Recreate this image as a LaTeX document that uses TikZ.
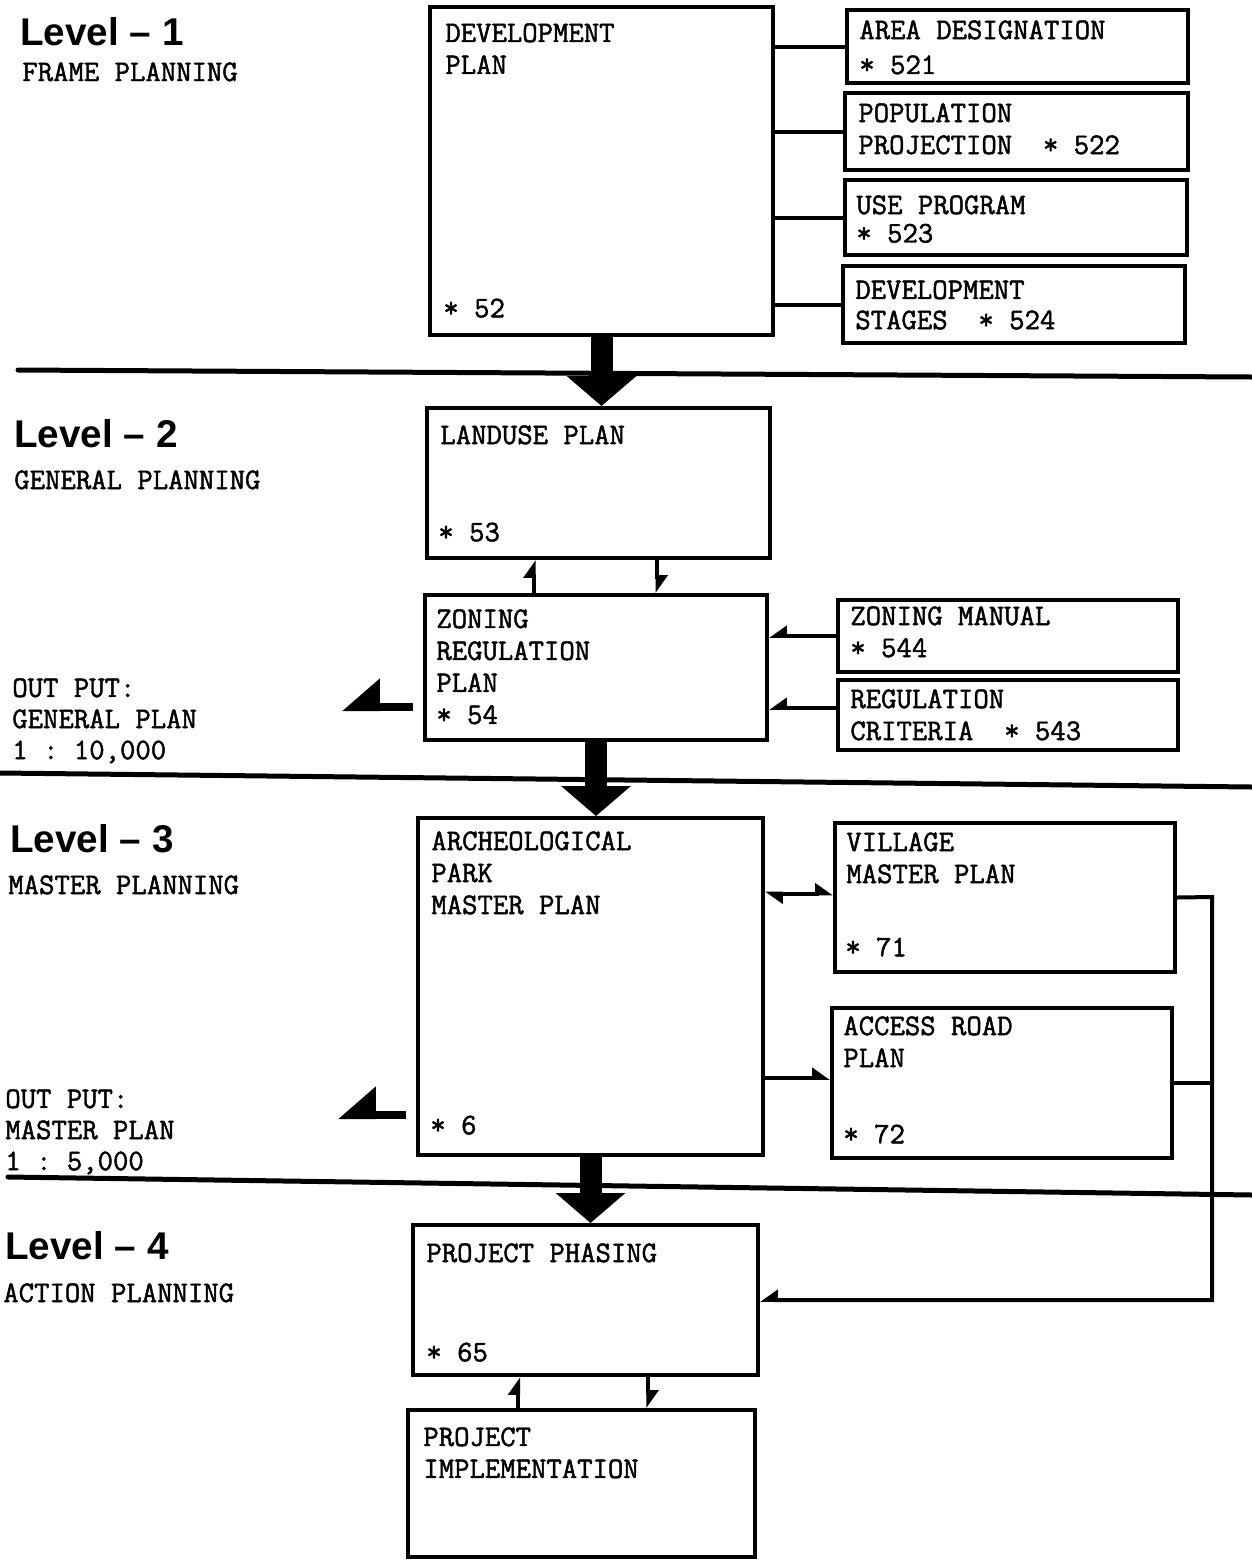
\documentclass[tikz,border=0pt]{standalone}
\usepackage{fontspec}
\newfontfamily\levelfont{Liberation Sans}
\newfontfamily\typefont{Latin Modern Mono}[FakeBold=1.6]
\usepackage{tikz}
\usetikzlibrary{calc, positioning, arrows.meta}

\begin{document}
\begin{tikzpicture}[x=0.02cm, y=-0.02cm,
        box/.style={draw, rectangle, line width=0.08cm, inner sep=0pt},
        tx/.style={font=\typefont\frenchspacing\fontsize{17}{18.2}\selectfont, inner sep=0pt, align=left},
        lvl/.style={font=\levelfont\bfseries\fontsize{22}{26}\selectfont, inner sep=0pt, anchor=base west},
        levelline/.style={line width=0.1cm, line cap=round},
        link/.style={line width=0.08cm},
        harp/.style={line width=0.08cm, -{Triangle[harpoon, length=0.3cm, width=0.4cm]}},
        harpr/.style={line width=0.08cm, -{Triangle[harpoon, swap, length=0.3cm, width=0.4cm]}},
        outharp/.style={line width=0.16cm, -{Triangle[harpoon, swap, length=0.66cm, width=1.1cm]}},
        bigarrow/.style={line width=0.44cm, -{Triangle[width=1.36cm, length=0.6cm]}}]
        \useasboundingbox (0,0) rectangle (1252,1560);

        % level separators
        \draw[levelline] (18,370) -- (1252,377);
        \draw[levelline] (0,773) -- (1252,787);
        \draw[levelline] (8,1177) -- (1252,1195);

        % level titles
        \node[lvl] (lev1) at (20,45) {Level – 1};
        \node[tx, anchor=base west] (frame) at (22,81) {FRAME PLANNING};
        \node[lvl] (lev2) at (14,447) {Level – 2};
        \node[tx, anchor=base west] (general) at (14,489) {GENERAL PLANNING};
        \node[lvl] (lev3) at (10,852) {Level – 3};
        \node[tx, anchor=base west] (master) at (8,894) {MASTER PLANNING};
        \node[lvl] (lev4) at (5,1259) {Level – 4};
        \node[tx, anchor=base west] (action) at (3,1302) {ACTION PLANNING};

        % level 1
        \node[box, minimum width=6.86cm, minimum height=6.56cm] (dev) at (601.5,171) {};
        \node[tx, below right=0.36cm and 0.34cm of dev.north west] (devtx) {DEVELOPMENT\\PLAN};
        \node[tx, above right=0.38cm and 0.3cm of dev.south west] (devno) {* 52};
        \node[box, minimum width=6.82cm, minimum height=1.46cm] (area) at (1017.5,46.5) {};
        \node[tx, below right=0.24cm and 0.28cm of area.north west] (areatx) {AREA DESIGNATION\\[1.7pt]* 521};
        \node[box, minimum width=6.86cm, minimum height=1.54cm] (pop) at (1016.5,131.5) {};
        \node[tx, below right=0.24cm and 0.3cm of pop.north west] (poptx) {POPULATION\\PROJECTION~~* 522};
        \node[box, minimum width=6.84cm, minimum height=1.5cm] (use) at (1016,217.5) {};
        \node[tx, below right=0.34cm and 0.26cm of use.north west] (usetx) {USE PROGRAM\\[-2pt]* 523};
        \node[box, minimum width=6.84cm, minimum height=1.54cm] (stages) at (1014,304.5) {};
        \node[tx, below right=0.32cm and 0.28cm of stages.north west] (stagestx) {DEVELOPMENT\\[-1pt]STAGES~~* 524};

        \foreach \b in {area, pop, use, stages}
            \draw[link] (dev.east |- \b.west) -- (\b.west);

        % level 2
        \node[box, minimum width=6.86cm, minimum height=3cm] (landuse) at (598.5,483) {};
        \node[tx, below right=0.38cm and 0.3cm of landuse.north west] (landusetx) {LANDUSE PLAN};
        \node[tx, above right=0.36cm and 0.26cm of landuse.south west] (landuseno) {* 53};
        \node[box, minimum width=6.84cm, minimum height=2.9cm] (zoning) at (596,667.5) {};
        \node[tx, below right=0.32cm and 0.26cm of zoning.north west] (zoningtx) {ZONING\\REGULATION\\PLAN\\* 54};
        \node[box, minimum width=6.8cm, minimum height=1.44cm] (manual) at (1008,636) {};
        \node[tx, below right=0.16cm and 0.28cm of manual.north west] (manualtx) {ZONING MANUAL\\* 544};
        \node[box, minimum width=6.8cm, minimum height=1.4cm] (criteria) at (1008,715) {};
        \node[tx, below right=0.22cm and 0.28cm of criteria.north west] (criteriatx) {REGULATION\\CRITERIA~~* 543};

        \draw[bigarrow] (dev.south) -- (dev.south |- landuse.north);
        \draw[harp] ($(zoning.north west)!0.32!(zoning.north east)$) coordinate (zu) -- (zu |- landuse.south);
        \draw[harp] ($(landuse.south west)!0.67!(landuse.south east)$) coordinate (zd) -- (zd |- zoning.north);
        \draw[harpr] (manual.west) -- (manual.west -| zoning.east);
        \draw[harpr] ([yshift=0.14cm]criteria.west) -- ([yshift=0.14cm]criteria.west -| zoning.east);

        \node[tx, anchor=north west] (out1tx) at (12,678) {OUT PUT:\\[-0.5pt]GENERAL PLAN\\[-0.5pt]1 : 10,000};
        \coordinate (out1) at (342,707);
        \draw[outharp] ([xshift=-0.2cm]zoning.west |- out1) -- (out1);

        % level 3
        \node[box, minimum width=6.9cm, minimum height=6.74cm] (archeo) at (590.5,986.5) {};
        \node[tx, below right=0.3cm and 0.3cm of archeo.north west] (archeotx) {ARCHEOLOGICAL\\PARK\\MASTER PLAN};
        \node[tx, above right=0.44cm and 0.28cm of archeo.south west] (archeono) {* 6};
        \node[box, minimum width=6.8cm, minimum height=2.98cm] (village) at (1005,897.5) {};
        \node[tx, below right=0.22cm and 0.26cm of village.north west] (villagetx) {VILLAGE\\MASTER PLAN};
        \node[tx, above right=0.34cm and 0.24cm of village.south west] (villageno) {* 71};
        \node[box, minimum width=6.8cm, minimum height=3cm] (access) at (1002,1083) {};
        \node[tx, below right=0.2cm and 0.26cm of access.north west] (accesstx) {ACCESS ROAD\\PLAN};
        \node[tx, above right=0.32cm and 0.26cm of access.south west] (accessno) {* 72};

        \draw[bigarrow] (zoning.south) -- (zoning.south |- archeo.north);
        \draw[line width=0.08cm, {Triangle[harpoon, length=0.3cm, width=0.4cm]}-{Triangle[harpoon, length=0.3cm, width=0.4cm]}] ([yshift=0.08cm]archeo.east |- village.west) -- ([yshift=0.08cm]village.west);
        \draw[harp] ([yshift=0.1cm]archeo.east |- access.west) -- ([yshift=0.1cm]access.west);

        \node[tx, anchor=north west] (out2tx) at (5,1089) {OUT PUT:\\[-0.5pt]MASTER PLAN\\[-0.5pt]1 : 5,000};
        \coordinate (out2) at (338,1115);
        \draw[outharp] ([xshift=-0.2cm]archeo.west |- out2) -- (out2);

        % level 4
        \node[box, minimum width=6.9cm, minimum height=3cm] (phasing) at (585.5,1300) {};
        \node[tx, below right=0.4cm and 0.3cm of phasing.north west] (phasingtx) {PROJECT PHASING};
        \node[tx, above right=0.3cm and 0.3cm of phasing.south west] (phasingno) {* 65};
        \node[box, minimum width=6.94cm, minimum height=2.94cm] (implement) at (581.5,1483.5) {};
        \node[tx, below right=0.38cm and 0.34cm of implement.north west] (implementtx) {PROJECT\\IMPLEMENTATION};

        \draw[bigarrow] (archeo.south) -- (archeo.south |- phasing.north);
        \draw[harp] ($(implement.north west)!0.32!(implement.north east)$) coordinate (iu) -- (iu |- phasing.south);
        \draw[harp] ($(phasing.south west)!0.68!(phasing.south east)$) coordinate (id) -- (id |- implement.north);

        % feedback from level 3 into phasing
        \coordinate (loopx) at (1212,897);
        \draw[link] (access.east) -- (access.east -| loopx);
        \draw[harpr] (village.east) -- (loopx) |- (phasing.east);
    \end{tikzpicture}
\end{document}
